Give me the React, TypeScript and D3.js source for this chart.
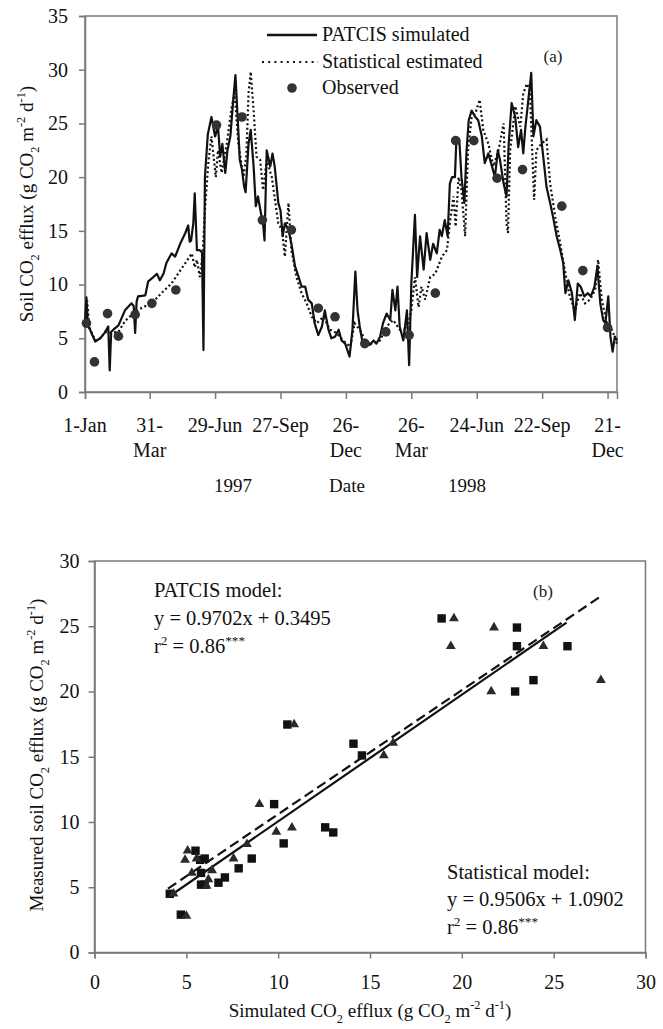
import React, { useEffect, useRef } from "react";
import * as d3 from "d3";

// ---- panel (a): daily soil CO2 efflux, day counted from 1-Jan-1997 ----
const patcisSimulated: [number, number][] = [
  [0, 6.5], [2, 8.8], [4, 6.2], [7, 5.8], [14, 4.7], [21, 5.0], [27, 5.5], [32, 6.1], [34, 2.0], [36, 5.6],
  [39, 5.8], [46, 6.2], [55, 7.6], [64, 8.25], [67, 8.0], [69, 5.5], [71, 8.4], [73, 8.9], [83, 9.0], [87, 10.3],
  [94, 10.7], [99, 11.0], [103, 10.4], [108, 11.0], [112, 12.0], [119, 12.9], [124, 12.6], [131, 13.8], [138, 14.8],
  [142, 15.5], [144, 14.0], [146, 14.1], [149, 15.7], [151, 18.5], [154, 13.2], [158, 13.2], [161, 13.0], [163, 3.9],
  [165, 20.0], [169, 24.0], [174, 25.6], [179, 23.8], [183, 24.7], [186, 21.9], [189, 23.1], [193, 20.4], [196, 22.5],
  [200, 23.8], [204, 27.2], [207, 29.5], [210, 25.6], [213, 21.6], [216, 20.7], [219, 19.1], [221, 18.6], [225, 23.1],
  [228, 24.4], [232, 21.0], [235, 17.3], [238, 18.2], [243, 16.3], [245, 15.7], [247, 14.1], [250, 22.5], [255, 21.0],
  [258, 22.2], [261, 21.0], [266, 17.6], [269, 16.9], [272, 14.5], [275, 15.7], [280, 15.1], [284, 13.8], [289, 11.7],
  [294, 10.7], [298, 9.8], [303, 9.8], [307, 8.6], [312, 8.25], [316, 6.4], [321, 5.3], [326, 6.1], [330, 7.6],
  [335, 5.8], [339, 5.0], [344, 5.15], [349, 5.8], [353, 4.8], [358, 4.5], [364, 3.3], [368, 5.8], [372, 11.2],
  [375, 7.6], [378, 6.1], [383, 4.2], [388, 4.8], [392, 4.4], [397, 4.8], [401, 4.5], [406, 5.15], [410, 6.4],
  [415, 7.3], [420, 6.7], [423, 9.5], [427, 7.6], [430, 9.8], [433, 6.1], [438, 4.8], [443, 7.6], [446, 2.5],
  [449, 10.1], [454, 16.5], [457, 10.7], [461, 14.5], [466, 11.4], [470, 14.8], [475, 12.3], [479, 13.8], [484, 12.9],
  [488, 15.1], [491, 14.5], [495, 16.0], [499, 14.5], [502, 19.4], [505, 20.0], [509, 20.0], [511, 23.5], [515, 23.5],
  [518, 20.0], [522, 17.6], [525, 22.5], [528, 25.3], [532, 26.2], [537, 25.6], [541, 25.3], [546, 23.8], [550, 21.3],
  [555, 22.2], [560, 21.0], [564, 20.0], [568, 22.5], [571, 21.6], [576, 19.4], [580, 18.2], [583, 23.1], [587, 26.9],
  [592, 25.6], [596, 22.8], [600, 24.4], [603, 22.2], [606, 24.7], [610, 27.2], [614, 29.7], [617, 23.8], [621, 25.3],
  [626, 24.7], [631, 21.6], [635, 19.1], [640, 17.6], [644, 16.3], [649, 14.5], [654, 13.2], [658, 12.0], [661, 9.2],
  [665, 10.4], [670, 9.2], [674, 6.7], [678, 10.1], [682, 9.8], [687, 8.9], [692, 9.2], [696, 8.9], [701, 9.8],
  [705, 11.7], [709, 8.25], [713, 6.7], [716, 6.4], [720, 8.9], [723, 5.15], [726, 3.75], [729, 5.15], [732, 4.8],
];

const statisticalEstimated: [number, number][] = [
  [0, 6.3], [3, 8.5], [6, 6.0], [14, 4.8], [21, 5.0], [28, 5.6], [35, 5.5], [46, 5.6], [55, 6.6], [69, 7.5],
  [80, 7.9], [92, 8.25], [105, 9.2], [119, 10.1], [130, 11.2], [138, 12.0], [147, 12.9], [151, 11.6], [154, 12.3],
  [158, 10.7], [162, 13.0], [165, 16.9], [170, 21.6], [174, 23.8], [180, 20.0], [183, 22.5], [188, 20.4], [195, 23.1],
  [202, 26.6], [206, 27.8], [211, 23.1], [218, 20.0], [222, 22.0], [225, 27.8], [228, 29.8], [232, 26.2], [236, 21.9],
  [241, 21.6], [245, 18.8], [250, 21.6], [257, 20.0], [266, 15.7], [271, 15.1], [275, 12.6], [280, 17.6], [284, 13.2],
  [291, 10.7], [298, 9.2], [305, 8.25], [312, 7.0], [319, 6.4], [328, 7.0], [337, 5.8], [346, 5.5], [355, 4.8],
  [365, 4.2], [371, 6.4], [378, 5.8], [388, 4.5], [397, 4.5], [406, 4.8], [415, 6.1], [424, 6.7], [433, 5.8],
  [443, 5.8], [449, 7.6], [454, 10.7], [459, 7.9], [463, 9.8], [468, 8.6], [475, 10.7], [482, 11.0], [491, 12.6],
  [498, 13.2], [502, 15.7], [507, 18.2], [510, 15.4], [514, 20.0], [518, 18.8], [523, 14.5], [527, 22.5], [532, 25.6],
  [537, 25.9], [543, 27.2], [548, 24.4], [555, 23.1], [562, 21.0], [569, 22.5], [576, 25.0], [580, 15.7], [582, 14.8],
  [585, 22.5], [592, 26.6], [599, 24.7], [603, 27.8], [608, 28.7], [612, 28.1], [618, 17.9], [621, 22.5], [628, 23.1],
  [635, 23.5], [640, 19.4], [647, 16.3], [654, 13.8], [660, 11.4], [667, 8.9], [674, 7.6], [681, 9.2], [688, 8.25],
  [695, 8.6], [702, 9.5], [706, 12.3], [711, 8.6], [718, 6.4], [725, 5.8], [732, 4.5],
];

const observed: [number, number][] = [
  [2, 6.4], [13, 2.8], [31, 7.3], [46, 5.2], [69, 7.2], [92, 8.25], [125, 9.5], [181, 24.85], [216, 25.6],
  [244, 16.0], [284, 15.1], [321, 7.8], [344, 7.0], [385, 4.5], [414, 5.6], [446, 5.3], [482, 9.2], [510, 23.4],
  [535, 23.4], [567, 19.9], [602, 20.7], [656, 17.3], [685, 11.3], [719, 6.0],
];

const dateTickDays = [0, 89, 179, 269, 359, 449, 539, 629, 719];
const dateTickLabels = [["1-Jan"], ["31-", "Mar"], ["29-Jun"], ["27-Sep"], ["26-", "Dec"], ["26-", "Mar"], ["24-Jun"], ["22-Sep"], ["21-", "Dec"]];
const effluxTicksA = [0, 5, 10, 15, 20, 25, 30, 35];

// ---- panel (b): simulated vs measured ----
const patcisPoints: [number, number][] = [
  [4.1, 4.5], [4.7, 2.9], [5.5, 7.8], [5.75, 7.1], [6.0, 7.2], [5.8, 6.1], [5.8, 5.2], [6.0, 5.2], [6.75, 5.35],
  [7.1, 5.75], [7.85, 6.45], [8.56, 7.2], [9.78, 11.37], [10.3, 8.36], [12.56, 9.59], [13.0, 9.2], [10.5, 17.47],
  [14.1, 16.0], [14.56, 15.1], [18.9, 25.6], [23.0, 24.9], [23.0, 23.47], [25.75, 23.47], [23.9, 20.87], [22.9, 20.0],
];
const statisticalPoints: [number, number][] = [
  [4.3, 4.5], [5.0, 2.8], [5.07, 7.8], [4.93, 7.1], [5.56, 7.2], [5.3, 6.1], [6.4, 6.3], [6.2, 5.6], [6.1, 5.1],
  [7.57, 7.2], [8.3, 8.3], [8.98, 11.37], [9.9, 9.25], [10.75, 9.56], [10.87, 17.47], [15.75, 15.1], [16.26, 16.06],
  [19.57, 25.6], [19.4, 23.47], [21.75, 24.9], [24.44, 23.47], [21.6, 20.0], [27.57, 20.87],
];
const patcisFit = { slope: 0.9702, intercept: 0.3495, from: 4.1, to: 25.7 };
const statisticalFit = { slope: 0.9506, intercept: 1.0902, from: 4.0, to: 27.6 };
const effluxTicksB = [0, 5, 10, 15, 20, 25, 30];

const FONT = "'Liberation Serif', 'Times New Roman', serif";
const AXIS = "#7a7a7a";

type Part = { t: string; s?: "sub" | "sup" };

function richText(sel: d3.Selection<SVGTextElement, unknown, null, undefined>, parts: Part[], size: number) {
  let shift = 0;
  parts.forEach((p) => {
    const target = p.s === "sub" ? size * 0.3 : p.s === "sup" ? -size * 0.4 : 0;
    sel.append("tspan")
      .attr("dy", target - shift)
      .attr("font-size", p.s ? size * 0.65 : size)
      .text(p.t);
    shift = target;
  });
}

export default function App() {
  const ref = useRef<SVGSVGElement>(null);

  useEffect(() => {
    const svg = d3.select(ref.current);
    svg.selectAll("*").remove();
    svg.attr("font-family", FONT);

    // ================= panel (a) =================
    const xA = d3.scaleLinear().domain([0, 732]).range([85, 617]);
    const yA = d3.scaleLinear().domain([0, 35]).range([392, 16]);
    const gA = svg.append("g");

    gA.append("rect")
      .attr("x", xA(0)).attr("y", yA(35))
      .attr("width", xA(732) - xA(0)).attr("height", yA(0) - yA(35))
      .attr("fill", "none").attr("stroke", AXIS).attr("stroke-width", 1.5);

    const axLeftA = gA.append("g")
      .attr("transform", `translate(${xA(0)},0)`)
      .call(d3.axisLeft(yA).tickValues(effluxTicksA).tickSize(6).tickPadding(11).tickFormat(d3.format("d")));
    const axBottomA = gA.append("g")
      .attr("transform", `translate(0,${yA(0)})`)
      .call(d3.axisBottom(xA).tickValues(dateTickDays).tickSize(7).tickFormat(() => ""));
    [axLeftA, axBottomA].forEach((ax) => {
      ax.select(".domain").attr("stroke", AXIS).attr("stroke-width", 1.5);
      ax.selectAll(".tick line").attr("stroke", AXIS).attr("stroke-width", 1.5);
      ax.selectAll("text").attr("font-family", FONT).attr("font-size", 20).attr("fill", "#111");
    });

    dateTickDays.forEach((d, i) => {
      const t = gA.append("text")
        .attr("x", xA(d)).attr("y", 432)
        .attr("text-anchor", "middle").attr("font-size", 20).attr("fill", "#111");
      dateTickLabels[i].forEach((line, j) => {
        t.append("tspan").attr("x", xA(d)).attr("dy", j === 0 ? 0 : 25).text(line);
      });
    });

    [["1997", 233], ["Date", 347], ["1998", 467]].forEach(([s, x]) => {
      gA.append("text").attr("x", x as number).attr("y", 492)
        .attr("text-anchor", "middle").attr("font-size", 19).attr("fill", "#111").text(s as string);
    });

    const yLabA = gA.append("text")
      .attr("transform", `translate(33,204) rotate(-90)`)
      .attr("text-anchor", "middle").attr("fill", "#111");
    richText(yLabA, [
      { t: "Soil CO" }, { t: "2", s: "sub" }, { t: " efflux  (g CO" }, { t: "2", s: "sub" },
      { t: " m" }, { t: "-2", s: "sup" }, { t: " d" }, { t: "-1", s: "sup" }, { t: ")" },
    ], 19);

    const lineA = d3.line<[number, number]>().x((d) => xA(d[0])).y((d) => yA(d[1]));

    gA.append("path").datum(statisticalEstimated)
      .attr("d", lineA).attr("fill", "none").attr("stroke", "#111")
      .attr("stroke-width", 2.2).attr("stroke-dasharray", "2,2.6");
    gA.append("path").datum(patcisSimulated)
      .attr("d", lineA).attr("fill", "none").attr("stroke", "#111")
      .attr("stroke-width", 2.2).attr("stroke-linejoin", "round");

    gA.selectAll("circle.obs").data(observed).join("circle")
      .attr("class", "obs")
      .attr("cx", (d) => xA(d[0])).attr("cy", (d) => yA(d[1]))
      .attr("r", 4.8).attr("fill", "#333");

    // legend
    gA.append("line").attr("x1", 267).attr("x2", 317).attr("y1", 35).attr("y2", 35)
      .attr("stroke", "#111").attr("stroke-width", 2.5);
    gA.append("line").attr("x1", 262).attr("x2", 318).attr("y1", 62).attr("y2", 62)
      .attr("stroke", "#111").attr("stroke-width", 2.2).attr("stroke-dasharray", "2,4.2");
    gA.append("circle").attr("cx", 292).attr("cy", 88).attr("r", 4.8).attr("fill", "#333");
    [["PATCIS simulated", 41], ["Statistical estimated", 68], ["Observed", 94]].forEach(([s, y]) => {
      gA.append("text").attr("x", 322).attr("y", y as number).attr("font-size", 20).attr("fill", "#111").text(s as string);
    });
    gA.append("text").attr("x", 553).attr("y", 62).attr("text-anchor", "middle")
      .attr("font-size", 17).attr("fill", "#222").text("(a)");

    // ================= panel (b) =================
    const xB = d3.scaleLinear().domain([0, 30]).range([94.5, 645.5]);
    const yB = d3.scaleLinear().domain([0, 30]).range([952.5, 561]);
    const gB = svg.append("g");

    gB.append("rect")
      .attr("x", xB(0)).attr("y", yB(30))
      .attr("width", xB(30) - xB(0)).attr("height", yB(0) - yB(30))
      .attr("fill", "none").attr("stroke", AXIS).attr("stroke-width", 1.5);

    const axLeftB = gB.append("g")
      .attr("transform", `translate(${xB(0)},0)`)
      .call(d3.axisLeft(yB).tickValues(effluxTicksB).tickSize(6).tickPadding(9).tickFormat(d3.format("d")));
    const axBottomB = gB.append("g")
      .attr("transform", `translate(0,${yB(0)})`)
      .call(d3.axisBottom(xB).tickValues(effluxTicksB).tickSize(6).tickPadding(16).tickFormat(d3.format("d")));
    [axLeftB, axBottomB].forEach((ax) => {
      ax.select(".domain").attr("stroke", AXIS).attr("stroke-width", 1.5);
      ax.selectAll(".tick line").attr("stroke", AXIS).attr("stroke-width", 1.5);
      ax.selectAll("text").attr("font-family", FONT).attr("font-size", 20).attr("fill", "#111");
    });

    const fitLine = (f: typeof patcisFit): [number, number][] => [
      [f.from, f.slope * f.from + f.intercept],
      [f.to, f.slope * f.to + f.intercept],
    ];
    const lineB = d3.line<[number, number]>().x((d) => xB(d[0])).y((d) => yB(d[1]));

    gB.append("path").datum(fitLine(statisticalFit)).attr("d", lineB)
      .attr("fill", "none").attr("stroke", "#111").attr("stroke-width", 2.2).attr("stroke-dasharray", "10,5");
    gB.append("path").datum(fitLine(patcisFit)).attr("d", lineB)
      .attr("fill", "none").attr("stroke", "#111").attr("stroke-width", 2.2);

    gB.selectAll("rect.pt").data(patcisPoints).join("rect")
      .attr("class", "pt")
      .attr("x", (d) => xB(d[0]) - 4.2).attr("y", (d) => yB(d[1]) - 4.2)
      .attr("width", 8.4).attr("height", 8.4).attr("fill", "#111");

    const tri = d3.symbol().type(d3.symbolTriangle).size(42);
    gB.selectAll("path.tri").data(statisticalPoints).join("path")
      .attr("class", "tri")
      .attr("d", tri)
      .attr("transform", (d) => `translate(${xB(d[0])},${yB(d[1])})`)
      .attr("fill", "#2a2a2a");

    const note = (x: number, y: number, parts: Part[]) => {
      const t = gB.append("text").attr("x", x).attr("y", y).attr("fill", "#111");
      richText(t, parts, 20.5);
    };
    note(154, 597, [{ t: "PATCIS model:" }]);
    note(154, 625, [{ t: "y = 0.9702x + 0.3495" }]);
    note(154, 653, [{ t: "r" }, { t: "2", s: "sup" }, { t: " = 0.86" }, { t: "***", s: "sup" }]);
    note(447, 879, [{ t: "Statistical model:" }]);
    note(447, 906, [{ t: "y = 0.9506x + 1.0902" }]);
    note(447, 934, [{ t: "r" }, { t: "2", s: "sup" }, { t: " = 0.86" }, { t: "***", s: "sup" }]);
    gB.append("text").attr("x", 543).attr("y", 597).attr("text-anchor", "middle")
      .attr("font-size", 17).attr("fill", "#222").text("(b)");

    const yLabB = gB.append("text")
      .attr("transform", `translate(43,755) rotate(-90)`)
      .attr("text-anchor", "middle").attr("fill", "#111");
    richText(yLabB, [
      { t: "Measured soil CO" }, { t: "2", s: "sub" }, { t: " efflux (g CO" }, { t: "2", s: "sub" },
      { t: " m" }, { t: "-2", s: "sup" }, { t: " d" }, { t: "-1", s: "sup" }, { t: ")" },
    ], 19);

    const xLabB = gB.append("text")
      .attr("x", 370).attr("y", 1017)
      .attr("text-anchor", "middle").attr("fill", "#111");
    richText(xLabB, [
      { t: "Simulated CO" }, { t: "2", s: "sub" }, { t: " efflux (g CO" }, { t: "2", s: "sub" },
      { t: " m" }, { t: "-2", s: "sup" }, { t: " d" }, { t: "-1", s: "sup" }, { t: ")" },
    ], 19);
  }, []);

  return (
    <div style={{ position: "absolute", left: 0, top: 0, background: "#fff" }}>
      <svg ref={ref} width={663} height={1029} style={{ display: "block" }} />
    </div>
  );
}
